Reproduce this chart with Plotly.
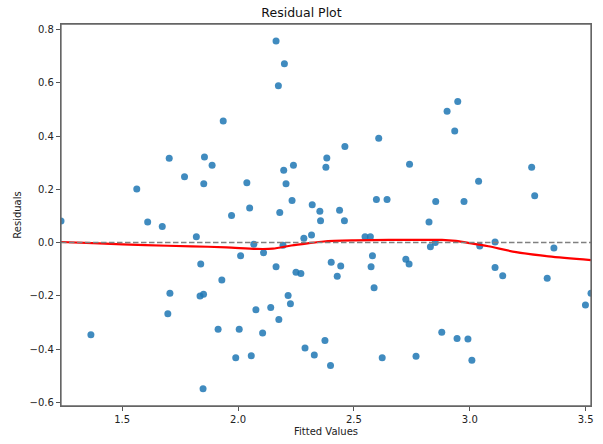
import plotly.graph_objects as go

fitted = [1.236, 1.365, 1.563, 1.610, 1.673, 1.697, 1.703, 1.706, 1.769, 1.820,
          1.839, 1.836, 1.851, 1.849, 1.852, 1.855, 1.888, 1.914, 1.930, 1.936,
          1.972, 1.990, 2.005, 2.011, 2.038, 2.050, 2.057, 2.068, 2.077, 2.106,
          2.110, 2.141, 2.164, 2.164, 2.174, 2.176, 2.180, 2.194, 2.197, 2.200,
          2.207, 2.216, 2.226, 2.233, 2.239, 2.250, 2.271, 2.284, 2.289, 2.317,
          2.320, 2.329, 2.353, 2.356, 2.375, 2.379, 2.383, 2.399, 2.402, 2.428,
          2.438, 2.443, 2.459, 2.461, 2.548, 2.571, 2.574, 2.580, 2.587, 2.597,
          2.607, 2.622, 2.643, 2.724, 2.738, 2.740, 2.768, 2.824, 2.830, 2.851,
          2.853, 2.879, 2.902, 2.935, 2.945, 2.948, 2.975, 2.992, 3.009, 3.038,
          3.043, 3.109, 3.109, 3.142, 3.267, 3.280, 3.334, 3.363, 3.499, 3.523]
residuals = [0.081, -0.346, 0.201, 0.077, 0.060, -0.267, 0.317, -0.190, 0.247, 0.022,
             -0.081, -0.201, -0.194, -0.549, 0.221, 0.321, 0.290, -0.326, -0.141, 0.457,
             0.102, -0.433, -0.326, -0.050, 0.225, 0.130, -0.425, -0.006, -0.252, -0.340,
             -0.038, -0.244, 0.757, -0.091, 0.589, -0.289, 0.113, -0.010, 0.272, 0.672,
             0.221, -0.199, -0.230, 0.158, 0.290, -0.112, -0.116, 0.016, -0.396, 0.028,
             0.142, -0.422, 0.118, 0.082, -0.368, 0.283, 0.318, -0.462, -0.074, -0.127,
             0.121, -0.088, 0.082, 0.361, 0.022, 0.022, -0.091, -0.050, -0.170, 0.162,
             0.392, -0.433, 0.162, -0.063, -0.081, 0.294, -0.427, 0.077, -0.016, 0.000,
             0.154, -0.337, 0.493, 0.419, -0.360, 0.530, 0.154, -0.362, -0.442, 0.230,
             -0.013, 0.002, -0.094, -0.125, 0.283, 0.176, -0.134, -0.020, -0.235, -0.190]

smooth_x = [1.236, 1.400, 1.600, 1.800, 1.950, 2.080, 2.150, 2.230, 2.300, 2.370,
            2.500, 2.650, 2.800, 2.880, 2.940, 3.000, 3.080, 3.200, 3.340, 3.523]
smooth_y = [0.002, -0.003, -0.010, -0.014, -0.018, -0.024, -0.023, -0.011, -0.003, 0.004,
            0.008, 0.010, 0.010, 0.010, 0.006, -0.002, -0.014, -0.036, -0.052, -0.066]

x_ticks = [1.5, 2.0, 2.5, 3.0, 3.5]
y_ticks = [-0.6, -0.4, -0.2, 0.0, 0.2, 0.4, 0.6, 0.8]

fig = go.Figure()
fig.add_trace(go.Scatter(
    x=fitted, y=residuals, mode="markers",
    marker=dict(color="#1f77b4", opacity=0.85, size=7, line=dict(width=0)),
    showlegend=False, hoverinfo="skip"))
fig.add_shape(type="line", xref="paper", yref="y", x0=0, x1=1, y0=0, y1=0,
              line=dict(color="#808080", width=1.5, dash="5.5px,2.5px"))
fig.add_trace(go.Scatter(
    x=smooth_x, y=smooth_y, mode="lines",
    line=dict(color="red", width=2.2, shape="spline", smoothing=0.8),
    showlegend=False, hoverinfo="skip"))
fig.add_shape(type="rect", xref="paper", yref="paper", x0=0, x1=1, y0=0, y1=1,
              line=dict(color="#666", width=1.3), fillcolor="rgba(0,0,0,0)", layer="above")

axis_common = dict(showgrid=False, zeroline=False, showline=True, mirror=True,
                   linecolor="#666", linewidth=1.3, ticks="outside", ticklen=4,
                   tickcolor="#555", tickfont=dict(size=10, color="#222"),
                   tickformat=".1f")

fig.update_layout(
    width=603, height=444,
    margin=dict(l=61, r=9, t=24, b=37),
    paper_bgcolor="white", plot_bgcolor="white",
    font=dict(family="DejaVu Sans", color="#222"),
    title=dict(text="Residual Plot", x=0.5, xanchor="center", y=1 - 13 / 444,
               yanchor="middle", yref="container", font=dict(size=12.5, color="#111")),
    xaxis=dict(range=[1.236, 3.523], tickvals=x_ticks,
               title=dict(text="Fitted Values", font=dict(size=10), standoff=3),
               **axis_common),
    yaxis=dict(range=[-0.614, 0.821], tickvals=y_ticks,
               title=dict(text="Residuals", font=dict(size=10), standoff=6),
               **axis_common),
)

fig.write_html(
    "out.html",
    config={"displayModeBar": False},
    post_script="document.body.style.margin='0';document.documentElement.style.overflow='hidden';document.body.style.overflow='hidden';",
)
